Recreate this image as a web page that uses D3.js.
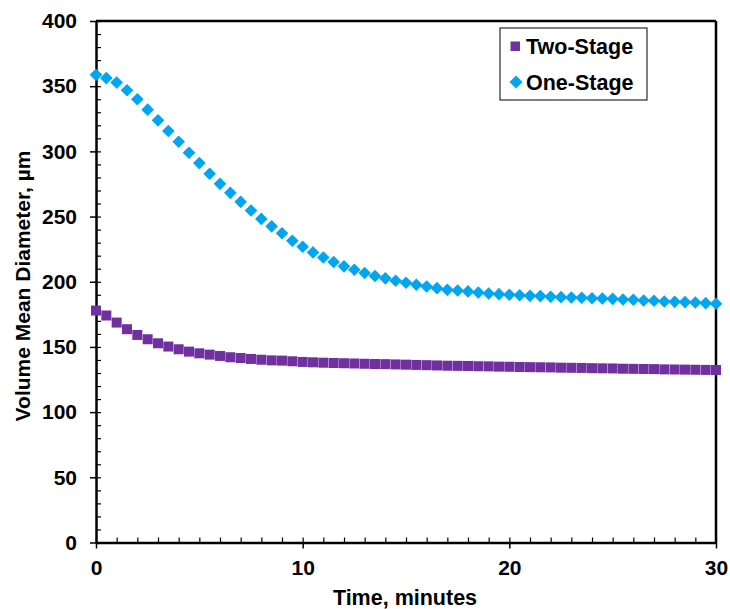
<!DOCTYPE html>
<html>
<head>
<meta charset="utf-8">
<script src="https://cdn.jsdelivr.net/npm/d3@7"></script>
<style>
  html, body { margin: 0; padding: 0; background: #fff; }
  svg { display: block; }
  text { font-family: "Liberation Sans", Arial, sans-serif; font-weight: bold; fill: #000; }
</style>
</head>
<body>
<svg id="chart" width="730" height="609"></svg>
<script>
const times = [0,0.5,1,1.5,2,2.5,3,3.5,4,4.5,5,5.5,6,6.5,7,7.5,8,8.5,9,9.5,10,10.5,11,11.5,12,12.5,13,13.5,14,14.5,15,15.5,16,16.5,17,17.5,18,18.5,19,19.5,20,20.5,21,21.5,22,22.5,23,23.5,24,24.5,25,25.5,26,26.5,27,27.5,28,28.5,29,29.5,30];

const twoStage = [177.9,174.1,168.7,163.6,159.2,155.9,152.8,150.3,148.2,146.4,145.1,144.1,143.1,142.1,141.5,140.8,140.2,139.7,139.5,139.0,138.5,138.2,137.9,137.7,137.5,137.3,137.1,136.9,136.8,136.6,136.4,136.2,136.0,135.8,135.6,135.5,135.4,135.2,135.1,134.9,134.8,134.6,134.5,134.4,134.3,134.1,134.0,133.9,133.7,133.6,133.5,133.3,133.2,133.1,133.0,132.8,132.7,132.6,132.5,132.4,132.3];

const oneStage = [358.7,356.2,352.8,346.9,340.0,332.0,323.8,315.6,307.4,299.0,291.0,282.8,275.1,268.2,261.3,254.6,248.2,242.5,237.2,231.5,226.9,222.5,218.6,215.1,211.8,209.2,206.7,204.4,202.6,200.8,199.2,197.7,196.4,195.1,193.8,193.3,192.6,191.8,191.0,190.5,190.0,189.7,189.2,189.0,188.5,188.2,187.9,187.7,187.4,187.2,186.9,186.4,186.2,185.6,185.4,184.9,184.6,184.4,184.1,183.6,183.1];

const xTicks = [0,10,20,30];
const yTicks = [0,50,100,150,200,250,300,350,400];
const seriesNames = ["Two-Stage","One-Stage"];
const seriesColors = ["#7030A0","#00A6F0"];

const svg = d3.select("#chart");
const L = 96, R = 716, T = 21, B = 542.5;

const x = d3.scaleLinear().domain([0,30]).range([L,R]);
const y = d3.scaleLinear().domain([0,400]).range([B,T]);

// frame (top & right)
svg.append("line").attr("x1",L).attr("x2",R).attr("y1",T).attr("y2",T)
  .attr("stroke","#000").attr("stroke-width",2.5);
svg.append("line").attr("x1",R).attr("x2",R).attr("y1",T).attr("y2",B)
  .attr("stroke","#000").attr("stroke-width",2.5);

// minor ticks (inside)
const yMinor = d3.range(0,401,10);
svg.append("g").attr("transform",`translate(${L},0)`)
  .call(d3.axisRight(y).tickValues(yMinor).tickSize(5).tickFormat(""))
  .call(g => { g.select(".domain").remove(); g.selectAll("line").attr("stroke","#000").attr("stroke-width",1.2); });
const xMinor = d3.range(0,31,1);
svg.append("g").attr("transform",`translate(0,${B})`)
  .call(d3.axisTop(x).tickValues(xMinor).tickSize(5).tickFormat(""))
  .call(g => { g.select(".domain").remove(); g.selectAll("line").attr("stroke","#000").attr("stroke-width",1.2); });

// major axes
const yAxis = svg.append("g").attr("transform",`translate(${L},0)`)
  .call(d3.axisLeft(y).tickValues(yTicks).tickSize(6).tickPadding(13).tickSizeOuter(0));
yAxis.select(".domain").attr("stroke","#000").attr("stroke-width",2.5);
yAxis.selectAll(".tick line").attr("stroke","#000").attr("stroke-width",1.5);
yAxis.selectAll(".tick text").style("font-size","21px").style("font-family","Liberation Sans, Arial, sans-serif").style("font-weight","bold").attr("fill","#000");

const xAxis = svg.append("g").attr("transform",`translate(0,${B})`)
  .call(d3.axisBottom(x).tickValues(xTicks).tickSize(6).tickPadding(12).tickSizeOuter(0));
xAxis.select(".domain").attr("stroke","#000").attr("stroke-width",2.5);
xAxis.selectAll(".tick line").attr("stroke","#000").attr("stroke-width",1.5);
xAxis.selectAll(".tick text").style("font-size","21px").style("font-family","Liberation Sans, Arial, sans-serif").style("font-weight","bold").attr("fill","#000");

// axis titles
svg.append("text").attr("x",405).attr("y",605).attr("text-anchor","middle")
  .style("font-size","21.5px").text("Time, minutes");
svg.append("text").attr("transform",`translate(30,286) rotate(-90)`).attr("text-anchor","middle")
  .style("font-size","21px").text("Volume Mean Diameter, \u00b5m");

// markers
const sq = 10, dh = 6.3;
const diamond = (cx,cy,h) => `M${cx},${cy-h}L${cx+h},${cy}L${cx},${cy+h}L${cx-h},${cy}Z`;

svg.append("g").selectAll("path").data(times.map((t,i)=>({t, v: oneStage[i]})))
  .join("path").attr("d", d => diamond(x(d.t), y(d.v), dh)).attr("fill", seriesColors[1]);

svg.append("g").selectAll("rect").data(times.map((t,i)=>({t, v: twoStage[i]})))
  .join("rect").attr("x", d => x(d.t)-sq/2).attr("y", d => y(d.v)-sq/2)
  .attr("width", sq).attr("height", sq).attr("fill", seriesColors[0]);

// legend
const lg = svg.append("g");
lg.append("rect").attr("x",500).attr("y",28).attr("width",147).attr("height",72)
  .attr("fill","#fff").attr("stroke","#000").attr("stroke-width",1);
lg.append("rect").attr("x",510.5).attr("y",41.5).attr("width",9.5).attr("height",9.5).attr("fill",seriesColors[0]);
lg.append("path").attr("d",diamond(516,82,6.5)).attr("fill",seriesColors[1]);
lg.append("text").attr("x",526).attr("y",54).style("font-size","21.5px").text(seriesNames[0]);
lg.append("text").attr("x",526).attr("y",90).style("font-size","21.5px").text(seriesNames[1]);
</script>
</body>
</html>
